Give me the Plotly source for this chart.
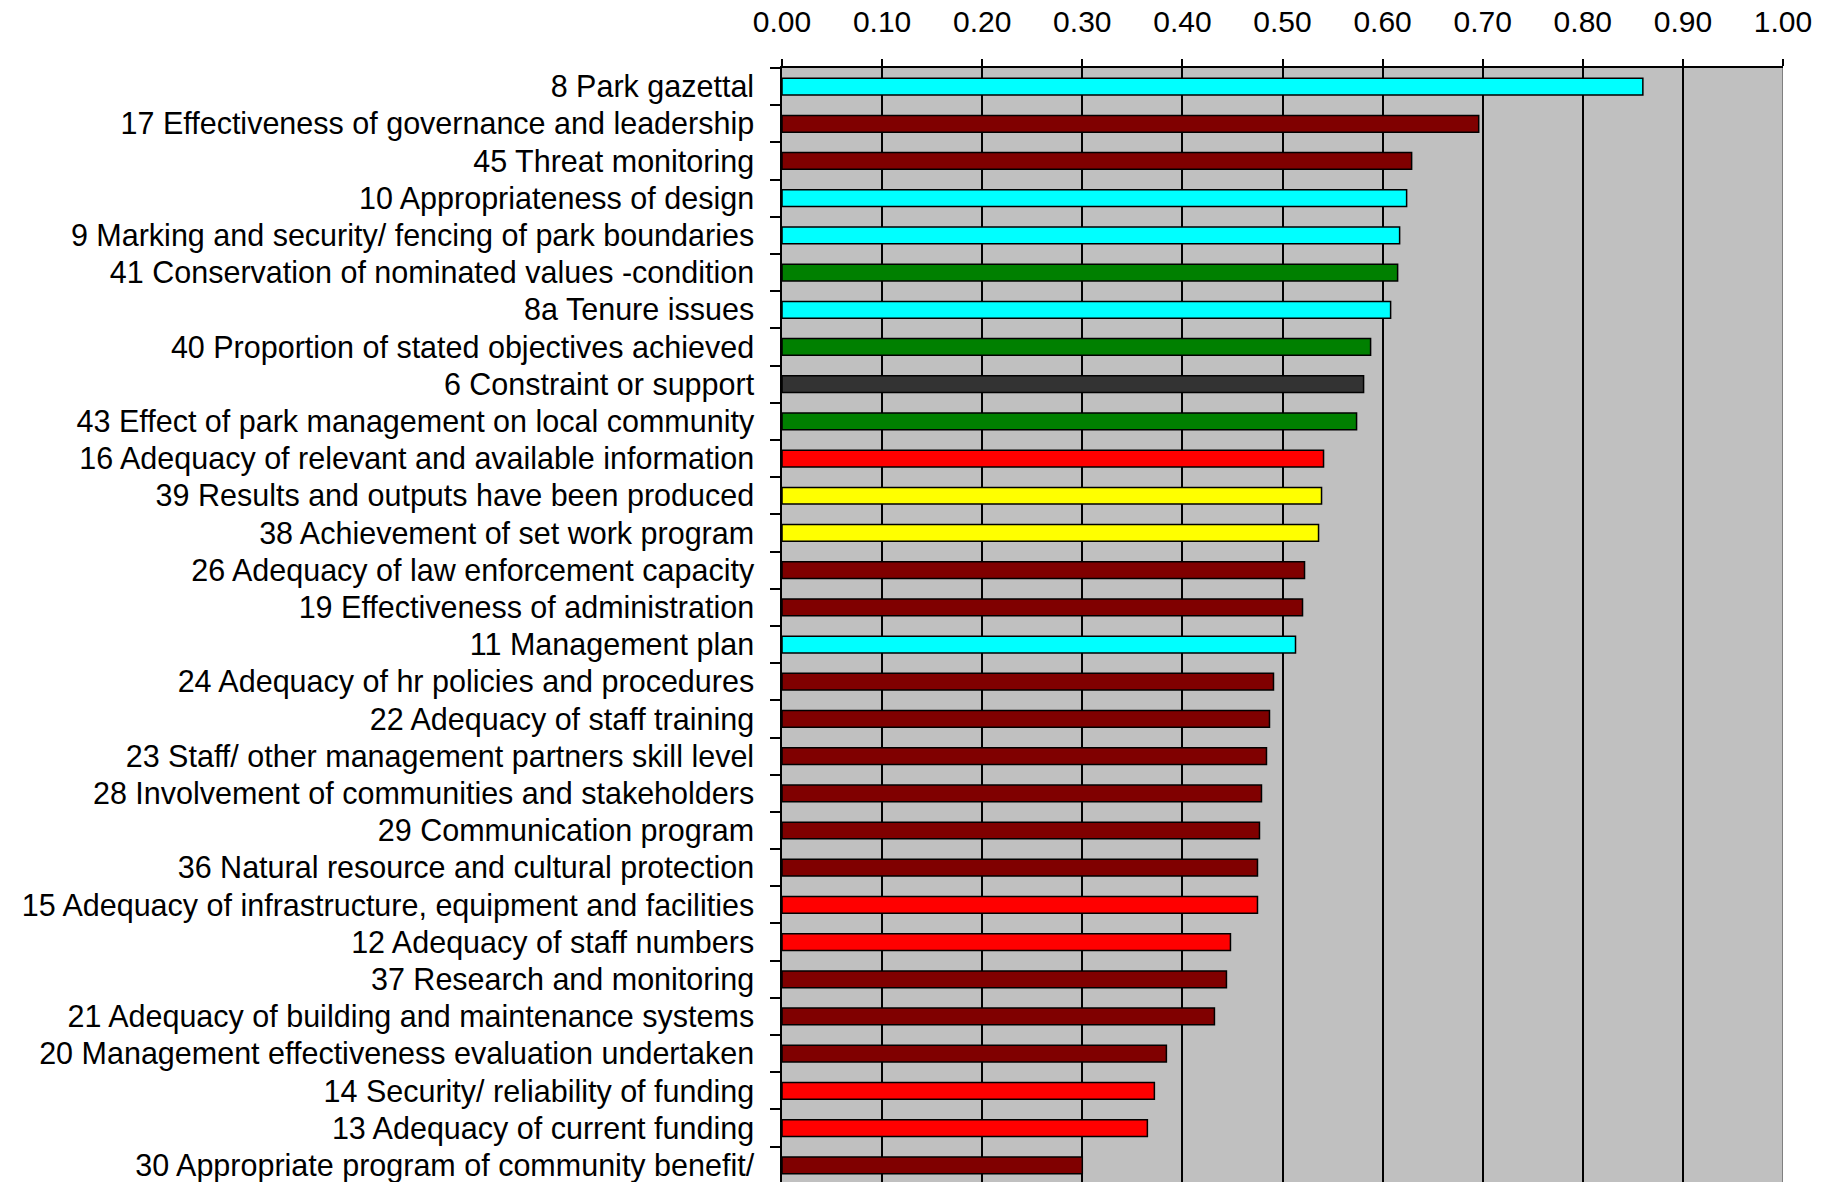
import plotly.graph_objects as go

categories = [
    "8 Park gazettal",
    "17 Effectiveness of governance and leadership",
    "45 Threat monitoring",
    "10 Appropriateness of design",
    "9 Marking and security/ fencing of park boundaries",
    "41 Conservation of nominated values -condition",
    "8a Tenure issues",
    "40 Proportion of stated objectives achieved",
    "6 Constraint or support",
    "43 Effect of park management on local community",
    "16 Adequacy of relevant and available information",
    "39 Results and outputs have been produced",
    "38 Achievement of set work program",
    "26 Adequacy of law enforcement capacity",
    "19 Effectiveness of administration",
    "11 Management plan",
    "24 Adequacy of hr policies and procedures",
    "22 Adequacy of staff training",
    "23 Staff/ other management partners skill level",
    "28 Involvement of communities and stakeholders",
    "29 Communication program",
    "36 Natural resource and cultural protection",
    "15 Adequacy of infrastructure, equipment and facilities",
    "12 Adequacy of staff numbers",
    "37 Research and monitoring",
    "21 Adequacy of building and maintenance systems",
    "20 Management effectiveness evaluation undertaken",
    "14 Security/ reliability of funding",
    "13 Adequacy of current funding",
    "30 Appropriate program of community benefit/",
]

values = [
    0.860, 0.696, 0.629, 0.624, 0.617, 0.615, 0.608, 0.588, 0.581, 0.574,
    0.541, 0.539, 0.536, 0.522, 0.520, 0.513, 0.491, 0.487, 0.484, 0.479,
    0.477, 0.475, 0.475, 0.448, 0.444, 0.432, 0.384, 0.372, 0.365, 0.300,
]

groups = [
    "planning", "process", "process", "planning", "planning", "outcome",
    "planning", "outcome", "context", "outcome", "input", "output",
    "output", "process", "process", "planning", "process", "process",
    "process", "process", "process", "process", "input", "input",
    "process", "process", "process", "input", "input", "process",
]

group_colors = {
    "planning": "#00FFFF",
    "process": "#800000",
    "outcome": "#008000",
    "context": "#333333",
    "input": "#FF0000",
    "output": "#FFFF00",
}

tick_vals = [i / 10 for i in range(11)]
tick_text = [f"{v:.2f}" for v in tick_vals]

FONT = "Liberation Sans, Arial, sans-serif"

fig = go.Figure(
    go.Bar(
        x=values,
        y=categories,
        orientation="h",
        width=0.45,
        marker=dict(
            color=[group_colors[g] for g in groups],
            line=dict(color="black", width=1.5),
        ),
        showlegend=False,
    )
)

fig.update_layout(
    width=1825,
    height=1182,
    margin=dict(l=782, r=42, t=68, b=0, pad=0),
    paper_bgcolor="white",
    plot_bgcolor="#C0C0C0",
    font=dict(family=FONT, size=30.5, color="black"),
)

fig.update_xaxes(
    side="top",
    range=[0, 1.0],
    tickvals=tick_vals,
    ticktext=tick_text,
    ticks="outside",
    ticklen=7,
    tickwidth=1.5,
    tickcolor="black",
    showline=True,
    linecolor="black",
    linewidth=1.5,
    showgrid=True,
    gridcolor="black",
    gridwidth=1.5,
    zeroline=False,
    automargin=False,
    ticklabelstandoff=15,
    tickfont=dict(family=FONT, size=30, color="black"),
)

fig.update_yaxes(
    type="category",
    categoryorder="array",
    categoryarray=categories,
    range=[29.45, -0.5],
    ticks="outside",
    tickson="boundaries",
    ticklen=10,
    tickwidth=1.5,
    tickcolor="black",
    showline=True,
    linecolor="black",
    linewidth=1.5,
    showgrid=False,
    zeroline=False,
    automargin=False,
    ticklabelstandoff=20,
    tickfont=dict(family=FONT, size=30.5, color="black"),
)

fig.add_shape(
    type="line", xref="x", yref="paper",
    x0=1.0, x1=1.0, y0=0, y1=1,
    line=dict(color="#808080", width=2),
    layer="above",
)

fig.write_html(
    "out.html",
    config={"displayModeBar": False},
    post_script="document.body.style.margin='0px';document.body.style.overflow='hidden';",
)
